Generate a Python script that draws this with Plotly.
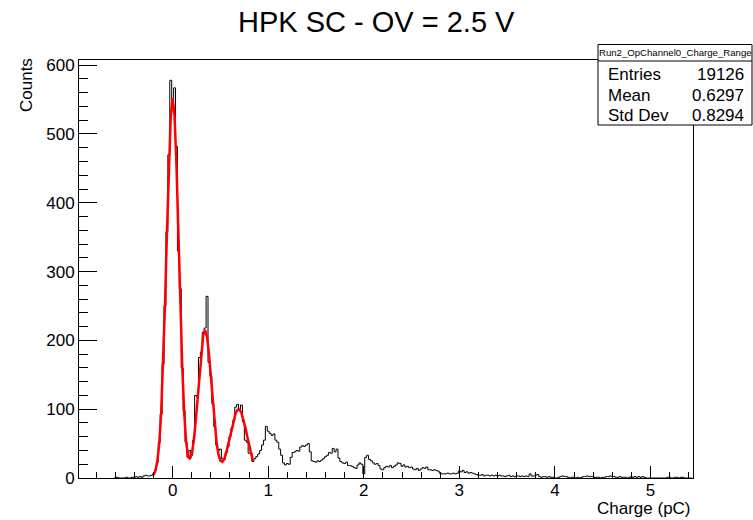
import numpy as np
import plotly.graph_objects as go

# ---------------- data ----------------
TITLE = "HPK SC - OV = 2.5 V"
X_TITLE = "Charge (pC)"
Y_TITLE = "Counts"
HIST_NAME = "Run2_OpChannel0_Charge_Range"
STAT_LABELS = ["Entries", "Mean", "Std Dev"]
STAT_VALUES = ["19126", "0.6297", "0.8294"]

BIN_FIRST_CENTER = -0.60
BIN_WIDTH = 0.02
counts = [
    0, 1, 0, 0, 0, 0, 1, 0, 0, 1,
    1, 2, 1, 2, 1, 3, 4, 3, 3, 4,
    6, 11, 23, 52, 93, 165, 250, 358, 470, 578,
    548, 567, 482, 330, 275, 160, 98, 52, 30, 40,
    33, 55, 120, 118, 175, 183, 212, 218, 264, 168,
    148, 108, 75, 48, 40, 42, 28, 27, 37, 45,
    60, 72, 84, 103, 107, 100, 106, 82, 55, 52,
    36, 36, 24, 28, 31, 35, 40, 48, 55, 75,
    68, 65, 62, 64, 55, 52, 42, 33, 22, 19,
    21, 20, 30, 37, 38, 40, 39, 45, 47, 46,
    48, 50, 38, 25, 24, 23, 25, 24, 26, 28,
    31, 33, 37, 36, 43, 38, 42, 29, 24, 22,
    21, 23, 18, 18, 17, 15, 14, 19, 22, 20,
    6, 30, 33, 27, 25, 22, 20, 21, 18, 13,
    12, 15, 17, 16, 18, 15, 17, 19, 22, 21,
    17, 19, 16, 17, 15, 16, 13, 12, 14, 11,
    13, 15, 14, 16, 12, 12, 11, 12, 11, 10,
    7, 6, 6, 6, 7, 6, 6, 7, 6, 7,
    10, 9, 11, 8, 9, 7, 8, 7, 6, 5,
    4, 4, 5, 3, 4, 4, 3, 4, 3, 4,
    3, 4, 3, 3, 2, 3, 4, 2, 3, 2,
    3, 3, 2, 3, 2, 3, 2, 6, 3, 3,
    4, 5, 2, 1, 2, 2, 1, 2, 1, 1,
    0, 0, 1, 2, 3, 2, 2, 1, 0, 1,
    1, 0, 1, 0, 1, 2, 2, 3, 2, 2,
    2, 1, 1, 1, 0, 1, 1, 2, 2, 3,
    2, 2, 1, 1, 2, 1, 1, 1, 0, 1,
    2, 1, 2, 1, 2, 1, 2, 1, 0, 0,
    0, 0, 0, 0, 0, 0, 0, 0, 0, 1,
    1, 0, 0, 1, 1, 0, 1, 1, 0, 0,
    0, 0,
]

fit_x = [
    -0.20, -0.18, -0.16, -0.14, -0.12, -0.10, -0.08, -0.06, -0.04, -0.02,
    0.00, 0.02, 0.04, 0.06, 0.08, 0.10, 0.12, 0.14, 0.16, 0.18,
    0.20, 0.22, 0.24, 0.26, 0.28, 0.30, 0.32, 0.34, 0.36, 0.38,
    0.40, 0.42, 0.44, 0.46, 0.48, 0.50, 0.52, 0.54, 0.56, 0.58,
    0.60, 0.62, 0.64, 0.66, 0.68, 0.70, 0.72, 0.74, 0.76, 0.78,
    0.80, 0.82, 0.84,
]
fit_y = [
    4.2, 10.6, 24.2, 50.4, 95.2, 162.9, 252.7, 355.7, 454.1, 525.7,
    552.0, 525.7, 454.1, 355.8, 252.9, 163.6, 96.9, 54.3, 32.7, 27.4,
    35.0, 53.4, 81.2, 115.6, 152.5, 185.5, 208.0, 215.0, 204.7, 179.9,
    145.8, 109.4, 76.4, 50.8, 33.9, 25.2, 23.6, 27.5, 36.6, 47.8,
    60.8, 73.9, 85.6, 94.6, 99.3, 99.3, 94.6, 85.6, 73.9, 60.6,
    47.4, 35.2, 24.9,
]

X_RANGE = [-0.98, 5.445]
Y_RANGE = [0, 607.5]

# ---------------- figure ----------------
W, H = 753, 520
L, R, T, B = 79, 693, 60, 478
FONT = "Liberation Sans, Arial, Helvetica, sans-serif"


def px(xp):
    return (xp - L) / (R - L)


def py(yp):
    return (B - yp) / (B - T)


n = len(counts)
edges = BIN_FIRST_CENTER - BIN_WIDTH / 2 + BIN_WIDTH * np.arange(n + 1)
hy = list(counts) + [counts[-1]]

fig = go.Figure()
fig.add_trace(go.Scatter(x=edges, y=hy, mode="lines", line_shape="hv",
                         line=dict(color="black", width=1), hoverinfo="skip"))
fig.add_trace(go.Scatter(x=fit_x, y=fit_y, mode="lines",
                         line=dict(color="#ff0000", width=2.5), hoverinfo="skip"))

fig.update_layout(
    width=W, height=H,
    margin=dict(l=L, r=W - R, t=T, b=H - B, pad=0),
    paper_bgcolor="white", plot_bgcolor="white",
    showlegend=False,
    font=dict(family=FONT, color="black", size=17),
)
fig.update_xaxes(
    range=X_RANGE, showgrid=False, zeroline=False,
    showline=True, mirror=True, linecolor="black", linewidth=1,
    ticks="inside", ticklen=12, tickwidth=1, tickcolor="black",
    tick0=0, dtick=1, tickfont=dict(size=17, family=FONT),
    ticklabelstandoff=-3,
    minor=dict(ticks="inside", ticklen=6, dtick=0.2, tick0=0, tickcolor="black", showgrid=False),
)
fig.update_yaxes(
    range=Y_RANGE, showgrid=False, zeroline=False,
    showline=True, mirror=True, linecolor="black", linewidth=1,
    ticks="inside", ticklen=18, tickwidth=1, tickcolor="black",
    tick0=0, dtick=100, tickfont=dict(size=17, family=FONT),
    minor=dict(ticks="inside", ticklen=9, dtick=20, tick0=0, tickcolor="black", showgrid=False),
)

ann = []
ann.append(dict(text=TITLE, x=px(376), y=py(22), xref="paper", yref="paper",
                xanchor="center", yanchor="middle", showarrow=False,
                font=dict(size=29, family=FONT)))
ann.append(dict(text=X_TITLE, x=px(693), y=py(509), xref="paper", yref="paper",
                xanchor="right", yanchor="middle", showarrow=False,
                font=dict(size=17, family=FONT)))
ann.append(dict(text=Y_TITLE, x=px(26), y=py(85), xref="paper", yref="paper",
                xanchor="center", yanchor="middle", showarrow=False, textangle=-90,
                font=dict(size=17, family=FONT)))

# stats box
BX0, BX1, BY0, BY1, BSEP = 598, 752, 44.5, 125, 61
shapes = [
    dict(type="rect", xref="paper", yref="paper", x0=px(BX0), x1=px(BX1),
         y0=py(BY1), y1=py(BY0), fillcolor="white", line=dict(color="black", width=1),
         layer="above"),
    dict(type="line", xref="paper", yref="paper", x0=px(BX0), x1=px(BX1),
         y0=py(BSEP), y1=py(BSEP), line=dict(color="black", width=1), layer="above"),
]
ann.append(dict(text=HIST_NAME, x=px((BX0 + BX1) / 2), y=py(52.5), xref="paper", yref="paper",
                xanchor="center", yanchor="middle", showarrow=False,
                font=dict(size=9.6, family=FONT)))
row_y = [74.5, 95, 115.5]
for lab, val, yy in zip(STAT_LABELS, STAT_VALUES, row_y):
    ann.append(dict(text=lab, x=px(606), y=py(yy), xref="paper", yref="paper",
                    xanchor="left", yanchor="middle", showarrow=False,
                    font=dict(size=17, family=FONT)))
    ann.append(dict(text=val, x=px(746), y=py(yy), xref="paper", yref="paper",
                    xanchor="right", yanchor="middle", showarrow=False,
                    font=dict(size=17, family=FONT)))

fig.update_layout(annotations=ann, shapes=shapes)
fig.write_html("out.html")
